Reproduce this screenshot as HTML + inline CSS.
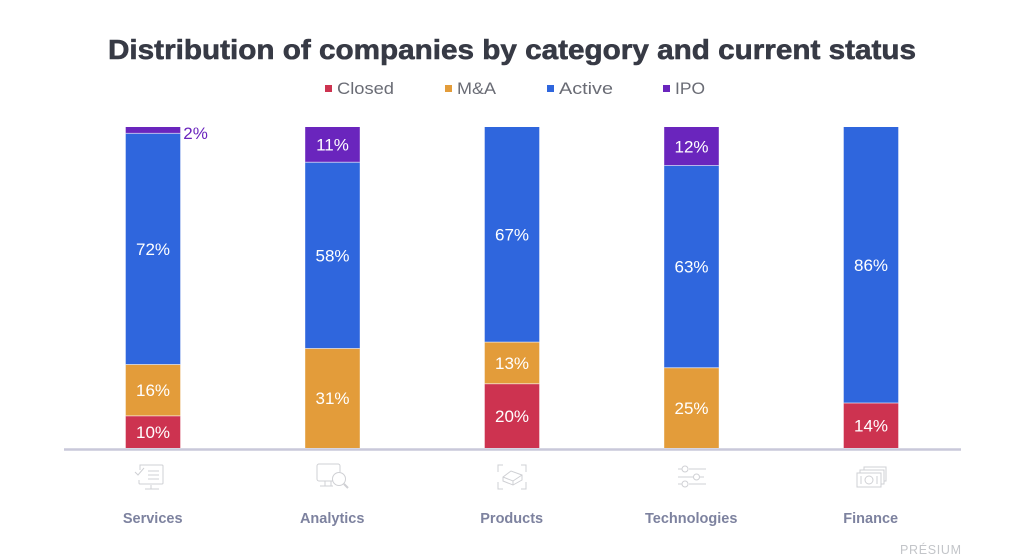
<!DOCTYPE html>
<html>
<head>
<meta charset="utf-8">
<style>
html,body{margin:0;padding:0;background:#fff;width:1024px;height:559px;overflow:hidden}
svg{display:block;font-family:"Liberation Sans",sans-serif}
</style>
</head>
<body>
<svg id="chart" width="1024" height="559" viewBox="0 0 1024 559" xmlns="http://www.w3.org/2000/svg">
  <rect width="1024" height="559" fill="#ffffff"/>
  <text x="108" y="59" font-size="28" font-weight="700" fill="#373a45" stroke="#373a45" stroke-width="0.6" textLength="808" lengthAdjust="spacingAndGlyphs">Distribution of companies by category and current status</text>
  <g id="legend"></g>
  <g id="bars"></g>
  <line x1="64" x2="961" y1="449.5" y2="449.5" stroke="#c9c8da" stroke-width="2.5"/>
  <g fill="none" stroke="#cfd0d4" stroke-width="1">
    <path d="M140 470v-5h22a1 1 0 0 1 1 1v17a1 1 0 0 1-1 1h-22a1 1 0 0 1-1-1v-3"/>
    <path d="M135 472l3 3 6-7M148 471h11M148 475h11M148 479h11M151 485v4M145 489h14"/>
  </g>
  <g fill="none" stroke="#cfd0d4" stroke-width="1">
    <path d="M333 481h-14a2 2 0 0 1-2-2v-13a2 2 0 0 1 2-2h19a2 2 0 0 1 2 2v6"/>
    <path d="M325 481v5M331 481v5M320 486h13"/>
    <circle cx="339" cy="479" r="6.5"/>
    <path d="M344 484l4 4" stroke-width="2"/>
  </g>
  <g fill="none" stroke="#cfd0d4" stroke-width="1">
    <path d="M503 465h-5v7M521 465h5v7M498 482v7h5M526 482v7h-5"/>
    <path d="M503 477l8-6 11 4v5l-9 5-10-4zM503 477l10 4 9-6M513 481v4"/>
  </g>
  <g fill="none" stroke="#cfd0d4" stroke-width="1">
    <path d="M678 469h4M689 469h17M678 477h15M700 477h4M678 484h4M689 484h17"/>
    <circle cx="685" cy="469" r="3"/>
    <circle cx="696.5" cy="477" r="3"/>
    <circle cx="685" cy="484" r="3"/>
  </g>
  <g fill="none" stroke="#cfd0d4" stroke-width="1">
    <rect x="857" y="473" width="24" height="14"/>
    <path d="M860 473v-3h24v14h-3M864 470v-3h22v14h-2"/>
    <circle cx="869" cy="480" r="4"/>
    <path d="M861 476v8M877 476v8"/>
  </g>
  <g id="categories"></g>
  <text x="900" y="554" font-size="12.5" fill="#c3c5c9" textLength="61" lengthAdjust="spacing">PRÉSIUM</text>
</svg>
<script>
const categories = ['Services', 'Analytics', 'Products', 'Technologies', 'Finance'];
const seriesNames = ['Closed', 'M&A', 'Active', 'IPO'];
const closedValues = [10, 0, 20, 0, 14];
const maValues = [16, 31, 13, 25, 0];
const activeValues = [72, 58, 67, 63, 86];
const ipoValues = [2, 11, 0, 12, 0];

const allSeries = [closedValues, maValues, activeValues, ipoValues];
const seriesColors = ['#cd3350', '#e39c3a', '#2f66dd', '#6a25bd'];
const NS = 'http://www.w3.org/2000/svg';
const plotBottom = 448, plotHeight = 321, firstCenter = 153, step = 179.5, barWidth = 54.6;
const xCenter = i => firstCenter + i * step;
const yScale = v => plotBottom - v / 100 * plotHeight;

function svgEl(tag, parent, attrs) {
  const el = document.createElementNS(NS, tag);
  for (const k in attrs) el.setAttribute(k, attrs[k]);
  parent.appendChild(el);
  return el;
}

const barsGroup = document.getElementById('bars');
categories.forEach((cat, i) => {
  let cum = 0;
  allSeries.forEach((vals, s) => {
    const v = vals[i];
    if (!v) return;
    const yTop = yScale(cum + v), yBot = yScale(cum);
    const rect = svgEl('rect', barsGroup, {x: xCenter(i) - barWidth / 2, y: yTop, width: barWidth, height: yBot - yTop, fill: seriesColors[s]});
    
    
    if (cum > 0) {
      const sep = svgEl('line', barsGroup, {x1: xCenter(i) - barWidth / 2, x2: xCenter(i) + barWidth / 2, y1: yBot, y2: yBot, stroke: '#ffffff', 'stroke-opacity': '0.6', 'stroke-width': '1'});
      
      
    }
    const outside = v < 5;
    const label = svgEl('text', barsGroup, {
      x: outside ? xCenter(i) + barWidth / 2 + 3 : xCenter(i),
      y: (yTop + yBot) / 2 + (outside ? 9 : 6),
      'font-size': '17',
      'text-anchor': outside ? 'start' : 'middle',
      fill: outside ? seriesColors[s] : '#ffffff'
    });
    
    
    label.textContent = v + '%';
    cum += v;
  });
  const catLabel = svgEl('text', document.getElementById('categories'), {x: xCenter(i) - 0.3, y: 523, 'font-size': '14.5', 'font-weight': '700', 'text-anchor': 'middle', fill: '#7d829f'});
  
  
  catLabel.textContent = cat;
});

const legendGroup = document.getElementById('legend');
const legendStart = [325, 445, 547, 663];
const legendWidths = [57, 39, 54, 30];
seriesNames.forEach((name, s) => {
  const entry = svgEl('g', legendGroup, {});
  
  
  svgEl('rect', entry, {x: legendStart[s], y: 85, width: 7, height: 7, fill: seriesColors[s]});
  const t = svgEl('text', entry, {x: legendStart[s] + 12, y: 94, 'font-size': '17', fill: '#6a6c75', textLength: legendWidths[s], lengthAdjust: 'spacingAndGlyphs'});
  t.textContent = name;
});
</script>
</body>
</html>
